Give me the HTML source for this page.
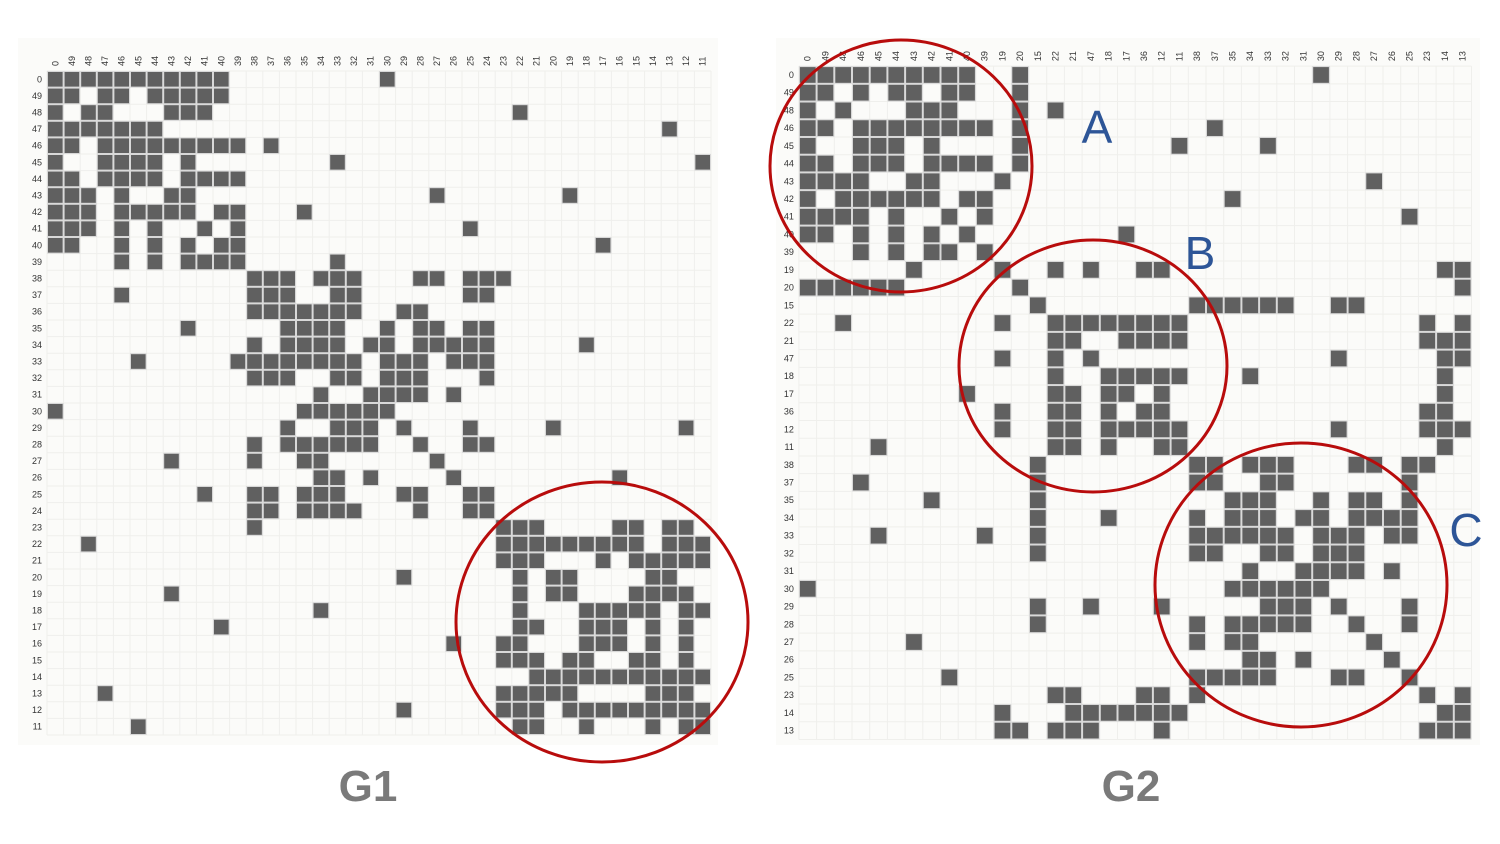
<!DOCTYPE html>
<html><head><meta charset="utf-8"><style>
html,body{margin:0;padding:0;background:#fff;}
svg{display:block;font-family:"Liberation Sans",sans-serif;}
</style></head><body>
<svg id="chart" width="1500" height="844" viewBox="0 0 1500 844" xmlns="http://www.w3.org/2000/svg">
<rect x="0" y="0" width="1500" height="844" fill="#ffffff"/>
<rect x="18" y="38" width="700" height="707" fill="#fbfbf9"/>
<rect x="776" y="38" width="704" height="707" fill="#fbfbf9"/>
<g id="g1"></g>
<g id="g2"></g>
<ellipse cx="602" cy="622" rx="146" ry="140" fill="none" stroke="#b80c0c" stroke-width="3"/>
<ellipse cx="901" cy="166" rx="131" ry="126" fill="none" stroke="#b80c0c" stroke-width="3"/>
<ellipse cx="1093" cy="366" rx="134" ry="126" fill="none" stroke="#b80c0c" stroke-width="3"/>
<ellipse cx="1301" cy="585" rx="146" ry="142" fill="none" stroke="#b80c0c" stroke-width="3"/>
<text x="1097" y="143" font-size="46" fill="#2d5597" text-anchor="middle">A</text>
<text x="1200" y="269" font-size="46" fill="#2d5597" text-anchor="middle">B</text>
<text x="1466" y="546" font-size="46" fill="#2d5597" text-anchor="middle">C</text>
<text x="368" y="801" font-size="44" font-weight="bold" fill="#7a7a7a" text-anchor="middle">G1</text>
<text x="1131" y="801" font-size="44" font-weight="bold" fill="#7a7a7a" text-anchor="middle">G2</text>
</svg>
<script>
const g1Labels = ["0","49","48","47","46","45","44","43","42","41","40","39","38","37","36","35","34","33","32","31","30","29","28","27","26","25","24","23","22","21","20","19","18","17","16","15","14","13","12","11"];
const g1Rows = [
[0,1,2,3,4,5,6,7,8,9,10,20],
[0,1,3,4,6,7,8,9,10],
[0,2,3,7,8,9,28],
[0,1,2,3,4,5,6,37],
[0,1,3,4,5,6,7,8,9,10,11,13],
[0,3,4,5,6,8,17,39],
[0,1,3,4,5,6,8,9,10,11],
[0,1,2,4,7,8,23,31],
[0,1,2,4,5,6,7,8,10,11,15],
[0,1,2,4,6,9,11,25],
[0,1,4,6,8,10,11,33],
[4,6,8,9,10,11,17],
[12,13,14,16,17,18,22,23,25,26,27],
[4,12,13,14,17,18,25,26],
[12,13,14,15,16,17,18,21,22],
[8,14,15,16,17,20,22,23,25,26],
[12,14,15,16,17,19,20,22,23,24,25,26,32],
[5,11,12,13,14,15,16,17,18,20,21,22,24,25,26],
[12,13,14,17,18,20,21,22,26],
[16,19,20,21,22,24],
[0,15,16,17,18,19,20],
[14,17,18,19,21,25,30,38],
[12,14,15,16,17,18,19,22,25,26],
[7,12,15,16,23],
[16,17,19,24,34],
[9,12,13,15,16,17,21,22,25,26],
[12,13,15,16,17,18,22,25,26],
[12,27,28,29,34,35,37,38],
[2,27,28,29,30,31,32,33,34,35,37,38,39],
[27,28,29,33,35,36,37,38,39],
[21,28,30,31,36,37],
[7,28,30,31,35,36,37,38],
[16,28,32,33,34,35,36,38,39],
[10,28,29,32,33,34,36,38],
[24,27,28,32,33,34,36,38],
[27,28,29,31,32,35,36,38],
[29,30,31,32,33,34,35,36,37,38,39],
[3,27,28,29,30,31,36,37,38],
[21,27,28,29,31,32,33,34,35,36,37,38,39],
[5,28,29,32,36,38,39]
];
const g2Labels = ["0","49","48","46","45","44","43","42","41","40","39","19","20","15","22","21","47","18","17","36","12","11","38","37","35","34","33","32","31","30","29","28","27","26","25","23","14","13"];
const g2Rows = [
[0,1,2,3,4,5,6,7,8,9,12,29],
[0,1,3,5,6,8,9,12],
[0,2,6,7,8,12,14],
[0,1,3,4,5,6,7,8,9,10,12,23],
[0,3,4,5,7,12,21,26],
[0,1,3,4,5,7,8,9,10,12],
[0,1,2,3,6,7,11,32],
[0,2,3,4,5,6,7,9,10,24],
[0,1,2,3,5,8,10,34],
[0,1,3,5,7,9,18],
[3,5,7,8,10],
[6,11,14,16,19,20,36,37],
[0,1,2,3,4,5,12,37],
[13,22,23,24,25,26,27,30,31],
[2,11,14,15,16,17,18,19,20,21,35,37],
[14,15,18,19,20,21,35,36,37],
[11,14,16,30,36,37],
[14,17,18,19,20,21,25,36],
[9,14,15,17,18,20,36],
[11,14,15,17,19,20,35,36],
[11,14,15,17,18,19,20,21,30,35,36,37],
[4,14,15,17,20,21,36],
[13,22,23,25,26,27,31,32,34,35],
[3,13,22,23,26,27,34],
[7,13,24,25,26,29,31,32,34],
[13,17,22,24,25,26,28,29,31,32,33,34],
[4,10,13,22,23,24,25,26,27,29,30,31,33,34],
[13,22,23,26,27,29,30,31],
[25,28,29,30,31,33],
[0,24,25,26,27,28,29],
[13,16,20,26,27,28,30,34],
[13,22,24,25,26,27,28,31,34],
[6,22,24,25,32],
[25,26,28,33],
[8,22,23,24,25,26,30,31,34],
[14,15,19,20,22,35,37],
[11,15,16,17,18,19,20,21,36,37],
[11,12,14,15,16,20,35,36,37]
];
const NS = "http://www.w3.org/2000/svg";
function drawMatrix(gid, prefix, labels, rows, left, top, cw, ch) {
  const g = document.getElementById(gid);
  const n = labels.length;
  const xs = i => left + i * cw;
  const ys = j => top + j * ch;
  // grid
  for (let i = 0; i <= n; i++) {
    const v = document.createElementNS(NS, "line");
    v.setAttribute("x1", xs(i)); v.setAttribute("x2", xs(i));
    v.setAttribute("y1", top); v.setAttribute("y2", ys(n));
    v.setAttribute("stroke", "#efefec"); v.setAttribute("stroke-width", "1");
    
    
    g.appendChild(v);
    const h = document.createElementNS(NS, "line");
    h.setAttribute("y1", ys(i)); h.setAttribute("y2", ys(i));
    h.setAttribute("x1", left); h.setAttribute("x2", xs(n));
    h.setAttribute("stroke", "#efefec"); h.setAttribute("stroke-width", "1");
    
    
    g.appendChild(h);
  }
  // labels
  for (let i = 0; i < n; i++) {
    const rl = document.createElementNS(NS, "text");
    rl.setAttribute("x", left - 5); rl.setAttribute("y", ys(i) + ch / 2 + 3);
    rl.setAttribute("text-anchor", "end"); rl.setAttribute("font-size", "9"); rl.setAttribute("fill", "#333");
    rl.textContent = labels[i];
    
    
    g.appendChild(rl);
    const cl = document.createElementNS(NS, "text");
    const cx = xs(i) + cw / 2 + 3, cy = top - 5;
    cl.setAttribute("x", cx); cl.setAttribute("y", cy);
    cl.setAttribute("transform", "rotate(-90 " + cx + " " + cy + ")");
    cl.setAttribute("text-anchor", "start"); cl.setAttribute("font-size", "9"); cl.setAttribute("fill", "#333");
    cl.textContent = labels[i];
    
    
    g.appendChild(cl);
  }
  // cells
  rows.forEach((cols, r) => {
    cols.forEach(c => {
      const rect = document.createElementNS(NS, "rect");
      rect.setAttribute("x", xs(c) + 0.5); rect.setAttribute("y", ys(r) + 0.5);
      rect.setAttribute("width", cw - 1); rect.setAttribute("height", ch - 1);
      rect.setAttribute("fill", "#606060"); rect.setAttribute("stroke", "#d8d8d8"); rect.setAttribute("stroke-width", "1");
      
      
      g.appendChild(rect);
    });
  });
}
drawMatrix("g1", "g1", g1Labels, g1Rows, 47, 71, 16.6, 16.6);
drawMatrix("g2", "g2", g2Labels, g2Rows, 798.9, 66.1, 17.7, 17.72);
</script>
</body></html>
